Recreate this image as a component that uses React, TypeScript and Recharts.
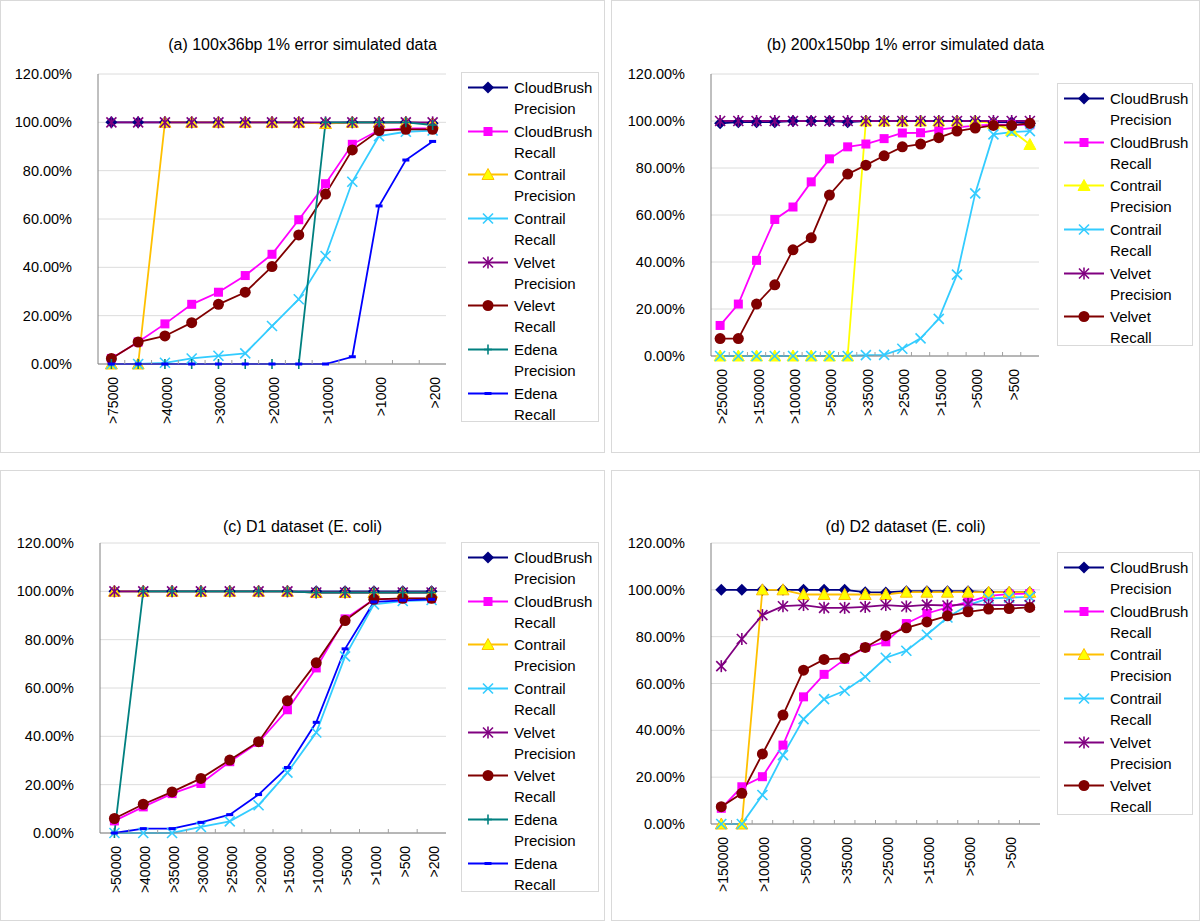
import React from 'react';
import { LineChart, Line, XAxis, YAxis, CartesianGrid, Legend } from 'recharts';

const FONT = '"Liberation Sans", Arial, Helvetica, sans-serif';

const yTicks = [0, 20, 40, 60, 80, 100, 120];

// (a) 100x36bp 1% error simulated data
const catsA = ['>75000', '>50000', '>40000', '>35000', '>30000', '>25000', '>20000', '>15000', '>10000', '>5000', '>1000', '>500', '>200'];
const aCloudBrushPrecision = [100, 100, 100, 100, 100, 100, 100, 100, 99.6, 100, 100, 100, 99.6];
const aCloudBrushRecall = [2.3, 9.1, 16.6, 24.7, 29.7, 36.6, 45.4, 59.7, 74.6, 90.9, 96.8, 97.5, 97.5];
const aContrailPrecision = [0, 0, 100, 100, 100, 100, 100, 100, 99.5, 100, 100, 100, 99.6];
const aContrailRecall = [0, 0, 0.5, 2.3, 3.4, 4.4, 15.7, 26.8, 44.7, 75.4, 94.3, 96.1, 96.6];
const aVelvetPrecision = [100, 100, 100, 100, 100, 100, 100, 100, 100, 100, 100, 100, 100];
const aVelvetRecall = [2.3, 9.1, 11.6, 17.1, 24.7, 29.7, 40.3, 53.4, 70.3, 88.6, 96.6, 97.1, 97.1];
const aEdenaPrecision = [0, 0, 0, 0, 0, 0, 0, 0, 100, 100, 100, 100, 98.9];
const aEdenaRecall = [0, 0, 0, 0, 0, 0, 0, 0, 0, 3, 65.4, 84.4, 92.1];

// (b) 200x150bp 1% error simulated data
const catsB = ['>250000', '>200000', '>150000', '>125000', '>100000', '>75000', '>50000', '>40000', '>35000', '>30000', '>25000', '>20000', '>15000', '>10000', '>5000', '>1000', '>500', '>200'];
const bCloudBrushPrecision = [99, 99.5, 99.5, 99.5, 100, 100, 100, 99.5, 100, 100, 100, 100, 100, 100, 100, 99.5, 99.5, 99];
const bCloudBrushRecall = [13, 22.1, 40.7, 58.1, 63.4, 74.1, 83.9, 89, 90.2, 92.5, 94.9, 95, 96.3, 97.3, 98, 98.4, 98.4, 98.4];
const bContrailPrecision = [0, 0, 0, 0, 0, 0, 0, 0, 100, 100, 100, 100, 100, 100, 100, 99, 96, 90];
const bContrailRecall = [0, 0, 0, 0, 0, 0, 0, 0, 0.4, 0.5, 3.1, 7.5, 15.8, 34.6, 69.2, 94.3, 95.3, 95.7];
const bVelvetPrecision = [100, 100, 100, 100, 100, 100, 100, 100, 100, 100, 100, 100, 100, 100, 100, 100, 100, 100];
const bVelvetRecall = [7.4, 7.4, 22.1, 30.3, 45.2, 50.3, 68.5, 77.4, 81.2, 85.2, 89, 90.2, 92.9, 95.7, 97, 98.1, 98.1, 99];

// (c) D1 dataset (E. coli)
const catsC = ['>50000', '>40000', '>35000', '>30000', '>25000', '>20000', '>15000', '>10000', '>5000', '>1000', '>500', '>200'];
const cCloudBrushPrecision = [100, 100, 100, 100, 100, 100, 100, 100, 100, 100, 100, 100];
const cCloudBrushRecall = [5, 10.8, 16.3, 20.5, 29.5, 37.5, 51, 68.3, 88.6, 96.7, 97, 97];
const cContrailPrecision = [100, 100, 100, 100, 100, 100, 100, 99.5, 99.5, 99.5, 99.5, 99.5];
const cContrailRecall = [0, 0, 0, 2.5, 4.8, 11.5, 25, 41.6, 73.1, 94.6, 96, 96.4];
const cVelvetPrecision = [100, 100, 100, 100, 100, 100, 100, 99.5, 99.5, 99.5, 99.5, 99.5];
const cVelvetRecall = [6, 11.9, 17, 22.6, 30.2, 37.8, 54.7, 70.4, 87.9, 96.7, 97.1, 97.1];
const cEdenaPrecision = [0, 100, 100, 100, 100, 100, 100, 99.5, 99.5, 99.5, 99.5, 99.5];
const cEdenaRecall = [0, 1.8, 1.8, 4.4, 7.6, 15.9, 27.1, 45.8, 76.2, 95.6, 96.3, 96.7];

// (d) D2 dataset (E. coli)
const catsD = ['>150000', '>125000', '>100000', '>75000', '>50000', '>40000', '>35000', '>30000', '>25000', '>20000', '>15000', '>10000', '>5000', '>1000', '>500', '>200'];
const dCloudBrushPrecision = [100, 100, 100, 100, 100, 100, 100, 99, 98.9, 99.4, 99.4, 99.4, 99.4, 99, 99, 99];
const dCloudBrushRecall = [6.7, 15.9, 20.2, 33.7, 54.3, 63.9, 70.3, 75.4, 77.8, 85.6, 89.9, 92.5, 94.9, 97.4, 98.2, 98.4];
const dContrailPrecision = [0, 0, 100, 100, 98, 98, 98, 98, 98, 99, 99, 99, 99, 99, 99, 99];
const dContrailRecall = [0, 0, 12.4, 29.4, 44.8, 53.3, 56.9, 62.9, 71, 74, 80.8, 88.2, 93.5, 96.3, 96.7, 97];
const dVelvetPrecision = [67.4, 79, 89.2, 93, 93.5, 92.3, 92.3, 92.7, 93.5, 92.9, 93.6, 93.3, 93.9, 93.5, 93.5, 93.5];
const dVelvetRecall = [7.4, 13.1, 29.9, 46.5, 65.7, 70.3, 70.8, 75.4, 80.4, 83.8, 86.3, 88.9, 90.6, 91.8, 92, 92.5];

type MarkerKind = 'diamond' | 'square' | 'triangle' | 'x' | 'star' | 'circle' | 'plus' | 'dash';

interface SeriesDef {
  key: string;
  name: [string, string];
  color: string;
  marker: MarkerKind;
  values: number[];
}

const NAVY = '#000080';
const MAGENTA = '#FF00FF';
const GOLD = '#FFC000';
const YELLOW = '#FFFF00';
const CYAN = '#33CCFF';
const PURPLE = '#800080';
const DARKRED = '#800000';
const TEAL = '#008080';
const BLUE = '#0000FF';

const Marker = ({ kind, cx, cy, color }: { kind: MarkerKind; cx: number; cy: number; color: string }) => {
  switch (kind) {
    case 'diamond':
      return <polygon points={`${cx},${cy - 6} ${cx + 6},${cy} ${cx},${cy + 6} ${cx - 6},${cy}`} fill={color} />;
    case 'square':
      return <rect x={cx - 4.5} y={cy - 4.5} width={9} height={9} fill={color} />;
    case 'triangle':
      return <polygon points={`${cx},${cy - 6} ${cx + 6},${cy + 5} ${cx - 6},${cy + 5}`} fill={YELLOW} stroke={color} strokeWidth={1} />;
    case 'x':
      return (
        <g stroke={color} strokeWidth={1.6}>
          <line x1={cx - 5} y1={cy - 5} x2={cx + 5} y2={cy + 5} />
          <line x1={cx - 5} y1={cy + 5} x2={cx + 5} y2={cy - 5} />
        </g>
      );
    case 'star':
      return (
        <g stroke={color} strokeWidth={1.6}>
          <line x1={cx - 5} y1={cy - 5} x2={cx + 5} y2={cy + 5} />
          <line x1={cx - 5} y1={cy + 5} x2={cx + 5} y2={cy - 5} />
          <line x1={cx} y1={cy - 6} x2={cx} y2={cy + 6} />
        </g>
      );
    case 'circle':
      return <circle cx={cx} cy={cy} r={5.5} fill={color} />;
    case 'plus':
      return (
        <g stroke={color} strokeWidth={1.6}>
          <line x1={cx} y1={cy - 5} x2={cx} y2={cy + 5} />
          <line x1={cx - 4} y1={cy} x2={cx + 4} y2={cy} />
        </g>
      );
    case 'dash':
      return <rect x={cx - 3.5} y={cy - 1.5} width={7} height={3} fill={color} />;
  }
  return null;
};

const LegendBox = ({ series }: { series: SeriesDef[] }) => (
  <div
    style={{
      border: '1px solid #d9d9d9',
      width: '100%',
      height: '100%',
      boxSizing: 'border-box',
      background: '#fff',
      paddingTop: 4,
      fontFamily: FONT,
      fontSize: 15,
      color: '#000',
    }}
  >
    {series.map((s) => (
      <div key={s.key} style={{ display: 'flex', height: 43.7 }}>
        <svg width={46} height={21} style={{ flex: 'none', marginLeft: 6 }}>
          <line x1={0} x2={40} y1={10.5} y2={10.5} stroke={s.color} strokeWidth={1.8} />
          <Marker kind={s.marker} cx={20} cy={10.5} color={s.color} />
        </svg>
        <div style={{ lineHeight: '21px', whiteSpace: 'nowrap' }}>
          {s.name[0]}
          <br />
          {s.name[1]}
        </div>
      </div>
    ))}
  </div>
);

interface Rect { left: number; top: number; width: number; height: number }

interface PanelProps {
  title: string;
  titleTop: number;
  cats: string[];
  series: SeriesDef[];
  box: Rect;
  plot: { left: number; top: number; right: number; bottom: number };
  legend: Rect;
  labelStep: number;
}

const Y_AXIS_W = 80;
const X_AXIS_H = 70;

const Panel = ({ title, titleTop, cats, series, box, plot, legend, labelStep }: PanelProps) => {
  const data = cats.map((c, i) => {
    const row: Record<string, string | number> = { cat: c };
    series.forEach((s) => {
      row[s.key] = s.values[i];
    });
    return row;
  });
  const chartW = box.width - 2;
  const chartH = box.height - 2;
  const ox = box.left + 1;
  const oy = box.top + 1;
  const plotW = plot.right - plot.left;
  const band = plotW / cats.length;
  const margin = {
    top: plot.top - oy,
    left: plot.left - ox - Y_AXIS_W,
    right: ox + chartW - plot.right,
    bottom: oy + chartH - plot.bottom - X_AXIS_H,
  };

  const renderTick = (props: any) => {
    const { x, y, payload, index } = props;
    return (
      <g key={`t-${index}`}>
        {index > 0 && <line x1={x - band / 2} x2={x - band / 2} y1={y} y2={y - 4} stroke="#a0a0a0" />}
        {index % labelStep === 0 && (
          <text
            transform={`translate(${x + 2},${y + 13}) rotate(-90)`}
            textAnchor="end"
            dominantBaseline="central"
            fontSize={14}
            fontFamily={FONT}
            fill="#000"
          >
            {payload.value}
          </text>
        )}
      </g>
    );
  };

  return (
    <div
      style={{
        position: 'absolute',
        left: box.left,
        top: box.top,
        width: box.width,
        height: box.height,
        boxSizing: 'border-box',
        border: '1px solid #d9d9d9',
        background: '#fff',
      }}
    >
      <div
        style={{
          position: 'absolute',
          left: 0,
          right: 0,
          top: titleTop,
          textAlign: 'center',
          fontFamily: FONT,
          fontSize: 16,
          color: '#000',
        }}
      >
        {title}
      </div>
      <LineChart width={chartW} height={chartH} data={data} margin={margin}>
        <CartesianGrid vertical={false} stroke="#dcdcdc" />
        <XAxis
          dataKey="cat"
          interval={0}
          height={X_AXIS_H}
          padding={{ left: band / 2, right: band / 2 }}
          axisLine={{ stroke: '#808080' }}
          tickLine={false}
          tickSize={0}
          tickMargin={0}
          tick={renderTick}
        />
        <XAxis xAxisId="top" dataKey="cat" orientation="top" height={0} tick={false} tickLine={false} axisLine={{ stroke: '#808080' }} />
        <YAxis
          width={Y_AXIS_W}
          domain={[0, 120]}
          ticks={yTicks}
          interval={0}
          tickFormatter={(v: number) => `${v.toFixed(2)}%`}
          axisLine={{ stroke: '#808080' }}
          tickLine={false}
          tickSize={0}
          tickMargin={26}
          tick={{ fontSize: 14.5, fontFamily: FONT, fill: '#000' }}
        />
        <YAxis yAxisId="right" orientation="right" width={0} domain={[0, 120]} tick={false} tickLine={false} axisLine={{ stroke: '#808080' }} />
        <Legend
          layout="vertical"
          align="center"
          verticalAlign="middle"
          wrapperStyle={{
            left: legend.left - ox,
            top: legend.top - oy,
            width: legend.width,
            height: legend.height,
          }}
          content={() => <LegendBox series={series} />}
        />
        {series.map((s) => (
          <Line
            key={s.key}
            dataKey={s.key}
            name={`${s.name[0]} ${s.name[1]}`}
            stroke={s.color}
            strokeWidth={1.8}
            isAnimationActive={false}
            activeDot={false}
            dot={(p: any) => (
              <Marker key={`${s.key}-${p.index}`} kind={s.marker} cx={p.cx} cy={p.cy} color={s.color} />
            )}
          />
        ))}
      </LineChart>
    </div>
  );
};

const seriesA: SeriesDef[] = [
  { key: 'cbp', name: ['CloudBrush', 'Precision'], color: NAVY, marker: 'diamond', values: aCloudBrushPrecision },
  { key: 'cbr', name: ['CloudBrush', 'Recall'], color: MAGENTA, marker: 'square', values: aCloudBrushRecall },
  { key: 'ctp', name: ['Contrail', 'Precision'], color: GOLD, marker: 'triangle', values: aContrailPrecision },
  { key: 'ctr', name: ['Contrail', 'Recall'], color: CYAN, marker: 'x', values: aContrailRecall },
  { key: 'vp', name: ['Velvet', 'Precision'], color: PURPLE, marker: 'star', values: aVelvetPrecision },
  { key: 'vr', name: ['Velevt', 'Recall'], color: DARKRED, marker: 'circle', values: aVelvetRecall },
  { key: 'ep', name: ['Edena', 'Precision'], color: TEAL, marker: 'plus', values: aEdenaPrecision },
  { key: 'er', name: ['Edena', 'Recall'], color: BLUE, marker: 'dash', values: aEdenaRecall },
];

const seriesB: SeriesDef[] = [
  { key: 'cbp', name: ['CloudBrush', 'Precision'], color: NAVY, marker: 'diamond', values: bCloudBrushPrecision },
  { key: 'cbr', name: ['CloudBrush', 'Recall'], color: MAGENTA, marker: 'square', values: bCloudBrushRecall },
  { key: 'ctp', name: ['Contrail', 'Precision'], color: YELLOW, marker: 'triangle', values: bContrailPrecision },
  { key: 'ctr', name: ['Contrail', 'Recall'], color: CYAN, marker: 'x', values: bContrailRecall },
  { key: 'vp', name: ['Velvet', 'Precision'], color: PURPLE, marker: 'star', values: bVelvetPrecision },
  { key: 'vr', name: ['Velvet', 'Recall'], color: DARKRED, marker: 'circle', values: bVelvetRecall },
];

const seriesC: SeriesDef[] = [
  { key: 'cbp', name: ['CloudBrush', 'Precision'], color: NAVY, marker: 'diamond', values: cCloudBrushPrecision },
  { key: 'cbr', name: ['CloudBrush', 'Recall'], color: MAGENTA, marker: 'square', values: cCloudBrushRecall },
  { key: 'ctp', name: ['Contrail', 'Precision'], color: GOLD, marker: 'triangle', values: cContrailPrecision },
  { key: 'ctr', name: ['Contrail', 'Recall'], color: CYAN, marker: 'x', values: cContrailRecall },
  { key: 'vp', name: ['Velvet', 'Precision'], color: PURPLE, marker: 'star', values: cVelvetPrecision },
  { key: 'vr', name: ['Velvet', 'Recall'], color: DARKRED, marker: 'circle', values: cVelvetRecall },
  { key: 'ep', name: ['Edena', 'Precision'], color: TEAL, marker: 'plus', values: cEdenaPrecision },
  { key: 'er', name: ['Edena', 'Recall'], color: BLUE, marker: 'dash', values: cEdenaRecall },
];

const seriesD: SeriesDef[] = [
  { key: 'cbp', name: ['CloudBrush', 'Precision'], color: NAVY, marker: 'diamond', values: dCloudBrushPrecision },
  { key: 'cbr', name: ['CloudBrush', 'Recall'], color: MAGENTA, marker: 'square', values: dCloudBrushRecall },
  { key: 'ctp', name: ['Contrail', 'Precision'], color: GOLD, marker: 'triangle', values: dContrailPrecision },
  { key: 'ctr', name: ['Contrail', 'Recall'], color: CYAN, marker: 'x', values: dContrailRecall },
  { key: 'vp', name: ['Velvet', 'Precision'], color: PURPLE, marker: 'star', values: dVelvetPrecision },
  { key: 'vr', name: ['Velvet', 'Recall'], color: DARKRED, marker: 'circle', values: dVelvetRecall },
];

export default function App() {
  return (
    <div style={{ position: 'absolute', left: 0, top: 0, width: 1200, height: 921, background: '#fff', overflow: 'hidden' }}>
      <Panel
        title="(a) 100x36bp 1% error simulated data"
        titleTop={35}
        cats={catsA}
        series={seriesA}
        box={{ left: 0, top: 0, width: 605, height: 453 }}
        plot={{ left: 98, top: 74, right: 446, bottom: 364 }}
        legend={{ left: 461, top: 72, width: 138, height: 350 }}
        labelStep={2}
      />
      <Panel
        title="(b) 200x150bp 1% error simulated data"
        titleTop={35}
        cats={catsB}
        series={seriesB}
        box={{ left: 611, top: 0, width: 589, height: 453 }}
        plot={{ left: 711, top: 74, right: 1039, bottom: 356 }}
        legend={{ left: 1057, top: 83, width: 136, height: 263 }}
        labelStep={2}
      />
      <Panel
        title="(c) D1 dataset (E. coli)"
        titleTop={47}
        cats={catsC}
        series={seriesC}
        box={{ left: 0, top: 470, width: 605, height: 451 }}
        plot={{ left: 100, top: 543, right: 446, bottom: 833 }}
        legend={{ left: 461, top: 542, width: 138, height: 350 }}
        labelStep={1}
      />
      <Panel
        title="(d) D2 dataset (E. coli)"
        titleTop={47}
        cats={catsD}
        series={seriesD}
        box={{ left: 611, top: 470, width: 589, height: 451 }}
        plot={{ left: 711, top: 543, right: 1040, bottom: 824 }}
        legend={{ left: 1057, top: 552, width: 136, height: 263 }}
        labelStep={2}
      />
    </div>
  );
}
